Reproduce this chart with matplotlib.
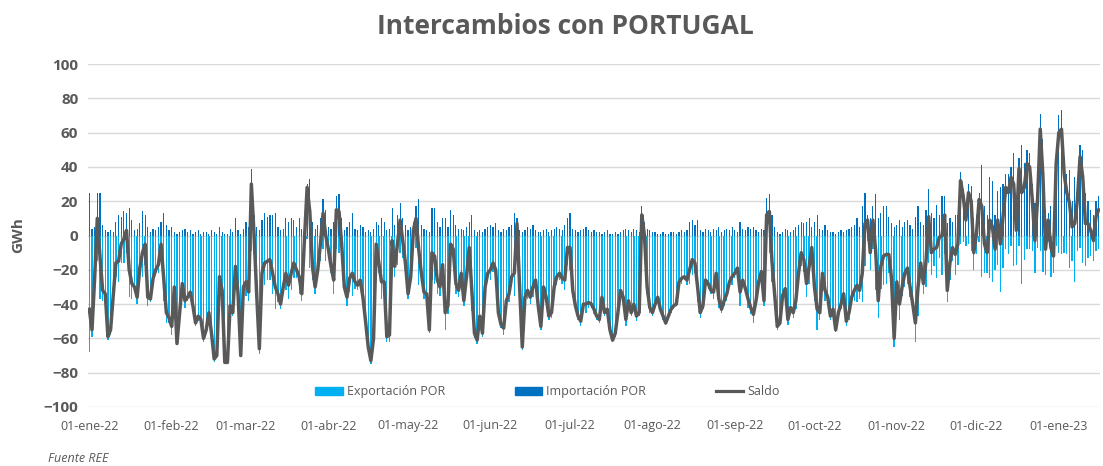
import numpy as np
import pandas as pd
import matplotlib
matplotlib.use("Agg")
import matplotlib.pyplot as plt
from matplotlib.patches import Patch
from matplotlib.lines import Line2D

plt.rcParams['font.family'] = ['Open Sans', 'DejaVu Sans']

start_date = "2022-01-01"

saldo = [
    -43, -55, -25, 10, -12, -32, -34, -59, -55, -35,
    -16, -15, -5, -2, 3, -20, -28, -30, -36, -19,
    -10, -5, -36, -37, -25, -20, -17, -5, -25, -45,
    -48, -53, -30, -63, -45, -28, -38, -36, -33, -41,
    -51, -47, -49, -60, -55, -45, -57, -72, -70, -24,
    -32, -74, -74, -41, -45, -18, -34, -70, -30, -27,
    -33, 30, 1, -34, -66, -22, -16, -15, -14, -22,
    -30, -34, -40, -30, -22, -29, -22, -16, -20, -24,
    -34, -2, 28, 14, -18, -30, -20, -5, 13, 0,
    -8, -18, -26, 15, 14, -5, -30, -36, -25, -22,
    -27, -29, -26, -36, -50, -65, -73, -60, -5, -16,
    -27, -27, -59, -58, -3, -18, -5, 9, -3, -16,
    -34, -24, 3, 10, -8, -22, -33, -34, -55, -10,
    -12, -26, -30, -17, -45, -41, -5, -8, -28, -32,
    -22, -38, -24, -7, -32, -57, -61, -47, -57, -30,
    -22, -20, -16, -20, -45, -52, -54, -38, -34, -24,
    -22, 7, -30, -65, -36, -32, -36, -30, -26, -41,
    -53, -30, -36, -47, -45, -30, -24, -22, -25, -26,
    -7, -7, -32, -41, -47, -50, -40, -40, -39, -40,
    -43, -47, -49, -36, -45, -43, -55, -61, -57, -45,
    -32, -36, -49, -38, -45, -40, -47, -45, 12, 0,
    -30, -42, -45, -40, -36, -43, -47, -51, -47, -43,
    -41, -40, -27, -25, -24, -26, -20, -14, -16, -30,
    -45, -41, -26, -28, -32, -33, -22, -37, -43, -38,
    -34, -27, -24, -22, -19, -33, -26, -31, -37, -42,
    -46, -38, -27, -21, -38, 12, 14, -15, -34, -53,
    -51, -35, -31, -49, -42, -45, -38, -22, -10, -14,
    -28, -18, -7, -30, -43, -45, -22, -32, -36, -47,
    -43, -55, -45, -40, -34, -50, -45, -36, -32, -29,
    -32, -22, 7, 9, -10, 9, -8, -38, -18, -12,
    -11, -11, -25, -60, -27, -40, -30, -22, -19, -30,
    -40, -51, -30, -16, -28, -15, 11, -10, -8, -7,
    -1, 0, 12, -32, -16, -7, -11, -5, 32, 23,
    9, 25, 20, -10, 1, 21, 17, -5, -10, 9,
    5, -8, 9, -5, 11, 28, 25, 34, 30, 3,
    39, 25, 28, 42, 40, 21, -3, 21, 62, 35,
    -8, 9, -7, -12, 42, 60, 62, 36, 25, 19,
    5, 7, 21, 46, 34, 7, 7, 3, -3, 11, 15,
]

importacion = [
    25, 4, 5, 25, 25, 6, 3, 2, 3, 2,
    8, 12, 11, 14, 13, 16, 9, 3, 4, 7,
    14, 12, 5, 2, 4, 3, 5, 8, 13, 6,
    3, 5, 2, 1, 2, 3, 4, 2, 3, 1,
    2, 3, 1, 2, 2, 1, 3, 2, 1, 5,
    2, 1, 1, 4, 2, 10, 3, 1, 4, 8,
    5, 39, 12, 5, 3, 9, 13, 11, 12, 12,
    13, 5, 3, 4, 10, 8, 10, 9, 5, 10,
    4, 8, 30, 33, 8, 4, 6, 10, 21, 15,
    5, 4, 8, 23, 24, 10, 3, 5, 8, 13,
    4, 3, 6, 5, 2, 3, 2, 4, 8, 6,
    10, 8, 3, 4, 16, 6, 12, 19, 10, 6,
    3, 5, 8, 17, 21, 6, 4, 3, 2, 16,
    16, 8, 5, 10, 10, 5, 15, 12, 6, 4,
    4, 3, 5, 8, 12, 3, 2, 3, 2, 4,
    5, 6, 5, 7, 3, 2, 4, 3, 5, 6,
    13, 10, 3, 2, 3, 5, 4, 6, 3, 2,
    2, 3, 4, 2, 3, 4, 5, 4, 3, 6,
    10, 13, 4, 3, 2, 3, 4, 5, 3, 2,
    3, 2, 2, 1, 2, 3, 1, 1, 2, 1,
    2, 3, 4, 3, 2, 4, 3, 2, 17, 8,
    4, 3, 2, 2, 1, 1, 2, 1, 1, 2,
    2, 1, 2, 3, 2, 3, 8, 9, 6, 9,
    3, 2, 4, 3, 2, 4, 3, 5, 2, 3,
    4, 3, 5, 3, 2, 8, 4, 3, 5, 4,
    5, 3, 2, 4, 3, 22, 24, 12, 5, 2,
    1, 2, 4, 3, 2, 3, 5, 6, 8, 7,
    8, 10, 5, 8, 12, 4, 3, 6, 3, 2,
    2, 1, 2, 3, 2, 3, 4, 5, 6, 10,
    5, 17, 25, 12, 10, 17, 24, 10, 13, 17,
    17, 11, 7, 5, 6, 9, 5, 8, 9, 6,
    4, 11, 17, 8, 6, 15, 27, 13, 10, 18,
    12, 23, 23, 7, 10, 8, 12, 12, 37, 27,
    15, 30, 29, 10, 12, 25, 41, 17, 12, 34,
    32, 12, 26, 28, 30, 36, 36, 40, 48, 20,
    45, 53, 42, 50, 48, 30, 19, 28, 71, 56,
    15, 13, 17, 10, 48, 70, 73, 46, 36, 38,
    20, 34, 30, 53, 50, 25, 20, 15, 12, 20, 23,
]

tick_dates = ["2022-01-01", "2022-02-01", "2022-03-01", "2022-04-01", "2022-05-01",
              "2022-06-01", "2022-07-01", "2022-08-01", "2022-09-01", "2022-10-01",
              "2022-11-01", "2022-12-01", "2023-01-01"]
tick_labels = ["01-ene-22", "01-feb-22", "01-mar-22", "01-abr-22", "01-may-22",
               "01-jun-22", "01-jul-22", "01-ago-22", "01-sep-22", "01-oct-22",
               "01-nov-22", "01-dic-22", "01-ene-23"]

saldo = np.array(saldo, dtype=float)
importacion = np.array(importacion, dtype=float)
exportacion = saldo - importacion   # saldo = importación + exportación (negativa)

n = len(saldo)
x = np.arange(n)
t0 = pd.Timestamp(start_date)
tick_pos = [(pd.Timestamp(d) - t0).days for d in tick_dates]

GRAY = "#595959"
W, H = 1103, 466
fig = plt.figure(figsize=(W / 100, H / 100), dpi=100)
ax = fig.add_axes([88 / W, 59 / H, 1012 / W, 343 / H])

ax.bar(x, exportacion, width=0.5, color="#00B0F0", linewidth=0, zorder=2)
ax.bar(x, importacion, width=0.45, color="#0070C0", linewidth=0, zorder=2)
ax.plot(x, saldo, color=GRAY, lw=2.5, zorder=3, solid_joinstyle="round")

ax.set_xlim(-0.5, n - 0.5)
ax.set_ylim(-100, 100)
ax.set_yticks(np.arange(-100, 101, 20))
ax.yaxis.grid(True, color="#D9D9D9", lw=1.0)
ax.set_axisbelow(True)
for s in ax.spines.values():
    s.set_visible(False)
ax.tick_params(axis="y", length=0, pad=7, labelsize=11, labelcolor=GRAY)
for lab in ax.get_yticklabels():
    lab.set_fontweight("bold")
ax.set_xticks(tick_pos)
ax.set_xticklabels(tick_labels)
ax.tick_params(axis="x", length=0, pad=9, labelsize=9, labelcolor=GRAY)

handles = [Patch(color="#00B0F0"), Patch(color="#0070C0"),
           Line2D([0], [0], color=GRAY, lw=2.3)]
leg = ax.legend(handles, ["Exportación POR", "Importación POR", "Saldo"],
                loc="center", bbox_to_anchor=(0.454, 0.044), ncol=3,
                frameon=False, fontsize=9, handlelength=2.2, handleheight=0.6,
                handletextpad=0.3, columnspacing=5.6, labelcolor=GRAY)

fig.text(565 / W, 1 - 27 / H, "Intercambios con PORTUGAL", ha="center", va="center",
         fontsize=19, fontweight="bold", color=GRAY)
fig.text(18 / W, 1 - 235 / H, "GWh", rotation=90, ha="center", va="center",
         fontsize=11, fontweight="bold", color=GRAY)
fig.text(48 / W, 1 - 458 / H, "Fuente REE", ha="left", va="center",
         fontsize=9, style="italic", color=GRAY)

fig.savefig("out.png", dpi=100)
